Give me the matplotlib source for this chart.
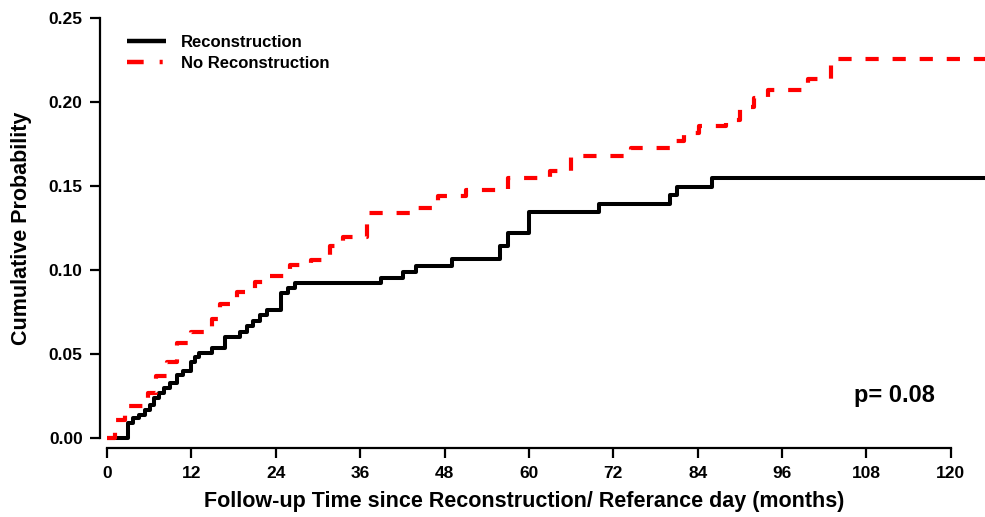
import matplotlib
matplotlib.use("Agg")
import matplotlib.pyplot as plt
from matplotlib.lines import Line2D

# ---- data ----
months_rec = [0, 3, 3.7, 4.6, 5.4, 6.1, 6.7, 7.4, 8.1, 9.0, 10.0, 10.8, 12.0, 12.5, 13.1,
              14.9, 16.8, 18.9, 19.9, 20.8, 21.8, 22.8, 24.7, 25.7, 26.7, 39, 42.1, 43.9,
              49, 55.9, 57, 60, 70, 80, 81, 86, 125]
prob_rec = [0, 0.009, 0.012, 0.0137, 0.0167, 0.0196, 0.0238, 0.0268, 0.0298, 0.0327, 0.0375,
            0.040, 0.045, 0.048, 0.0506, 0.0536, 0.060, 0.063, 0.0667, 0.0696, 0.0732, 0.0762,
            0.0863, 0.089, 0.092, 0.0955, 0.099, 0.1025, 0.1065, 0.1145, 0.122, 0.1345,
            0.139, 0.1445, 0.1495, 0.155, 0.155]

months_norec = [0, 1.2, 2.5, 5.8, 7.0, 8.5, 10, 12, 14.9, 16.1, 18.5, 21, 23, 26, 29, 31.7,
                33.5, 37, 44, 47, 51, 57, 63, 66, 74.5, 80, 82, 84.2, 88, 90, 92, 94,
                99.7, 103, 125]
prob_norec = [0, 0.011, 0.019, 0.027, 0.037, 0.045, 0.0565, 0.063, 0.071, 0.080, 0.087,
              0.093, 0.0965, 0.103, 0.106, 0.114, 0.1196, 0.134, 0.137, 0.144, 0.1476,
              0.155, 0.159, 0.168, 0.1726, 0.1765, 0.1815, 0.186, 0.189, 0.197, 0.2024,
              0.207, 0.2137, 0.2256, 0.2256]

x_ticks = [0, 12, 24, 36, 48, 60, 72, 84, 96, 108, 120]
y_ticks = [0.00, 0.05, 0.10, 0.15, 0.20, 0.25]
y_ticklabels = ["0.00", "0.05", "0.10", "0.15", "0.20", "0.25"]
labels = ["Reconstruction", "No Reconstruction"]
p_text = "p= 0.08"

# ---- figure ----
plt.rcParams['lines.scale_dashes'] = False
W, H = 985, 517
fig = plt.figure(figsize=(W / 100, H / 100), dpi=100)
left, right = 107 / W, 986 / W
bottom, top = 1 - 438 / H, 1 - 18 / H
ax = fig.add_axes([left, bottom, right - left, top - bottom])
ax.set_xlim(0, 125)
ax.set_ylim(0, 0.25)

ax.step(months_rec, prob_rec, where='post', color='black', lw=2.9, clip_on=False,
        solid_capstyle='butt', zorder=3)
ax.step(months_norec, prob_norec, where='post', color='#ff0000', lw=3.0, clip_on=False,
        dashes=(9.5, 10), dash_capstyle='butt', zorder=4)

for s in ['top', 'right']:
    ax.spines[s].set_visible(False)
ax.spines['left'].set_position(('outward', 5))
ax.spines['bottom'].set_position(('outward', 7.2))
ax.spines['left'].set_bounds(0, 0.25)
ax.spines['bottom'].set_bounds(0, 120)
for s in ['left', 'bottom']:
    ax.spines[s].set_linewidth(1.6)

ax.set_xticks(x_ticks)
ax.set_xticklabels([str(t) for t in x_ticks])
ax.set_yticks(y_ticks)
ax.set_yticklabels(y_ticklabels)
ax.tick_params(axis='both', direction='out', width=1.6, length=7)
ax.tick_params(axis='y', pad=5.5)
ax.tick_params(axis='x', pad=6)

arial = ['Liberation Sans', 'DejaVu Sans']
for lab in ax.get_xticklabels():
    lab.set_fontfamily(arial)
    lab.set_fontweight('bold')
    lab.set_fontsize(12.5)
for lab in ax.get_yticklabels():
    lab.set_fontfamily(arial)
    lab.set_fontweight('bold')
    lab.set_fontsize(12.5)

ax.set_xlabel("Follow-up Time since Reconstruction/ Referance day (months)",
              family=arial, fontweight='bold', fontsize=15.5, labelpad=7)
ax.xaxis.label.set_x(60 / 125 - 0.005)
ax.set_ylabel("Cumulative Probability", family=arial, fontweight='bold', fontsize=15.5,
              labelpad=12)

ax.text(0.942, 0.102, p_text, transform=ax.transAxes, ha='right', va='center',
        family=arial, fontweight='bold', fontsize=17)

h1 = Line2D([], [], color='black', lw=3.2, solid_capstyle='butt')
h2 = Line2D([], [], color='#ff0000', lw=3.2, dashes=(12, 11.5, 2.2, 20), dash_capstyle='butt')
ax.legend([h1, h2], labels, loc='upper left', bbox_to_anchor=(0.006, 0.995),
          frameon=False, handlelength=2.3, handletextpad=0.9, labelspacing=0.37,
          prop={'family': arial, 'weight': 'bold', 'size': 12})

fig.savefig("out.png", dpi=100)
